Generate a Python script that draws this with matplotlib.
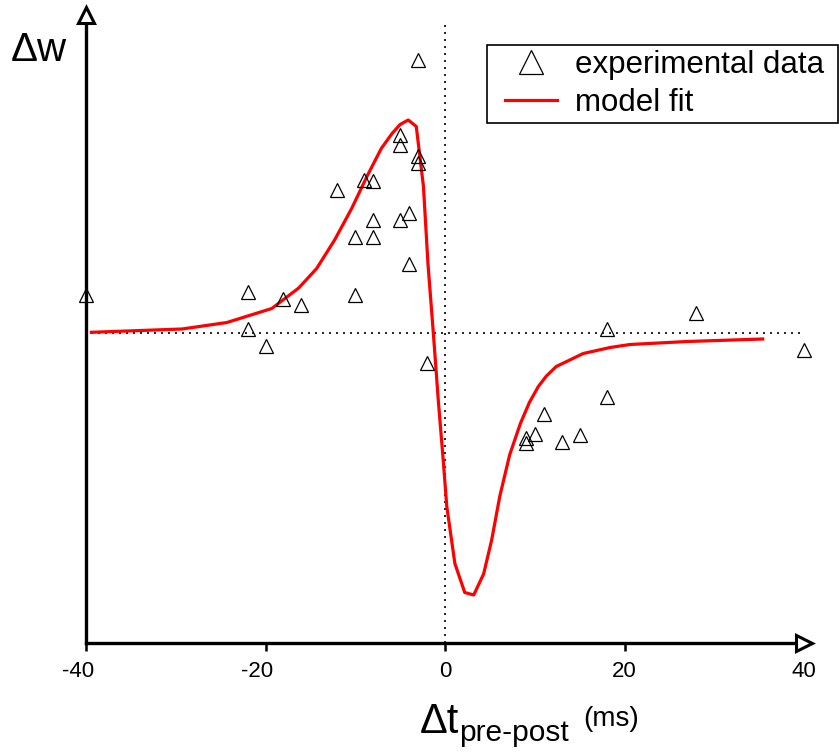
import matplotlib
matplotlib.use("Agg")
import matplotlib.pyplot as plt
import matplotlib.transforms as mtransforms
from matplotlib.patches import Rectangle

plt.rcParams['font.family'] = ['Liberation Sans', 'DejaVu Sans']

# experimental data (delta t in ms, delta w in arbitrary units)
exp_t = [-40, -22, -22, -20, -18, -16, -12, -10, -10, -9, -8, -8, -8,
         -5, -5, -5, -4, -4, -3, -3, -3, -2,
         9, 9, 10, 11, 13, 15, 18, 18, 28, 40]
exp_w = [0.375, 0.41, 0.04, -0.135, 0.34, 0.275, 1.425, 0.96, 0.375, 1.53, 1.52, 1.125, 0.96,
         1.975, 1.875, 1.125, 1.2, 0.685, 2.725, 1.765, 1.70, -0.30,
         -1.05, -1.10, -1.015, -0.815, -1.09, -1.02, -0.64, 0.035, 0.20, -0.17]

# model fit curve
fit_t = [-39.4, -29.3, -24.3, -19.3, -16.3, -14.3, -12.3, -10.4, -8.7, -7.1, -5.9, -5.0,
         -4.1, -3.2, -2.8, -2.4, -1.9, -1.3, -0.75, -0.2, 0.2, 1.1, 2.2, 3.2, 4.3, 5.2,
         6.1, 7.2, 8.4, 9.4, 10.4, 11.3, 12.4, 15.4, 18.4, 20.6, 27.0, 35.4]
fit_w = [0.002, 0.035, 0.10, 0.24, 0.445, 0.64, 0.925, 1.24, 1.56, 1.84, 1.99, 2.08,
         2.125, 2.06, 1.76, 1.46, 0.69, -0.005, -0.675, -1.275, -1.74, -2.31, -2.60, -2.625,
         -2.415, -2.075, -1.64, -1.225, -0.91, -0.70, -0.54, -0.435, -0.34, -0.21, -0.15,
         -0.12, -0.09, -0.065]

xticks = [-40, -20, 0, 20, 40]
xticklabels = ['-40', '-20', '0', '20', '40']

fig = plt.figure(figsize=(8.39, 7.54), dpi=100)
ax = fig.add_axes([86/839, 111/754, 718/839, 628/754])
ax.set_xlim(-40, 40)
ax.set_ylim(-3.105, 3.175)

# dotted reference lines
ax.axhline(0, xmin=5/718, xmax=1, color='black', lw=1.2, ls=(0, (1.2, 3.0)), zorder=1)
ax.axvline(0, ymin=0, ymax=623/628, color='black', lw=1.2, ls=(0, (1.2, 3.0)), zorder=1)

ax.plot(fit_t, fit_w, color='#ff0000', lw=2.3, zorder=3, label='model fit')
ax.plot(exp_t, exp_w, ls='none', marker='^', ms=9.5, mfc='none', mec='black', mew=0.9,
        zorder=4, clip_on=False, label='experimental data')

# axes with arrow heads
for s in ['top', 'right']:
    ax.spines[s].set_visible(False)
for s in ['left', 'bottom']:
    ax.spines[s].set_linewidth(2.4)
ax.plot(1, 0, marker='>', ms=11, mfc='white', mec='black', mew=2.2,
        transform=ax.transAxes, clip_on=False, zorder=6)
ax.plot(0, 1, marker='^', ms=11, mfc='white', mec='black', mew=2.2,
        transform=ax.transAxes, clip_on=False, zorder=6)

ax.set_yticks([])
ax.set_xticks(xticks)
ax.set_xticklabels(xticklabels)
ax.tick_params(axis='x', direction='out', length=6, width=1.8, labelsize=16, pad=7)
ax.xaxis.get_major_ticks()[-1].tick1line.set_visible(False)
for lab in ax.get_xticklabels():
    if lab.get_text().startswith('-'):
        lab.set_transform(lab.get_transform() +
                          mtransforms.ScaledTranslation(-8/100, 0, fig.dpi_scale_trans))

# legend (frame drawn separately to get the wider side padding)
handles, labels = ax.get_legend_handles_labels()
leg = ax.legend(handles[::-1], labels[::-1], loc='upper left',
                bbox_to_anchor=(505/839, 1 - 50/754), bbox_transform=fig.transFigure,
                borderaxespad=0, borderpad=0, fontsize=22.5, markerscale=1.8,
                handlelength=1.66, handletextpad=0.58, labelspacing=0.26,
                frameon=False)
fig.add_artist(Rectangle((487/839, 1 - 123/754), 351/839, 78/754,
                         transform=fig.transFigure, fill=False, lw=1.2, ec='black'))

# axis labels
fig.text(11/839, 1 - 50/754, '\u0394w', ha='left', va='center', fontsize=29)
fig.text(420/839, 1 - 733/754, '\u0394t', ha='left', va='baseline', fontsize=30)
fig.text(459/839, 1 - 741/754, 'pre-post', ha='left', va='baseline', fontsize=21.5)
fig.text(583/839, 1 - 726/754, '(ms)', ha='left', va='baseline', fontsize=20)

fig.savefig('out.png', dpi=100)
